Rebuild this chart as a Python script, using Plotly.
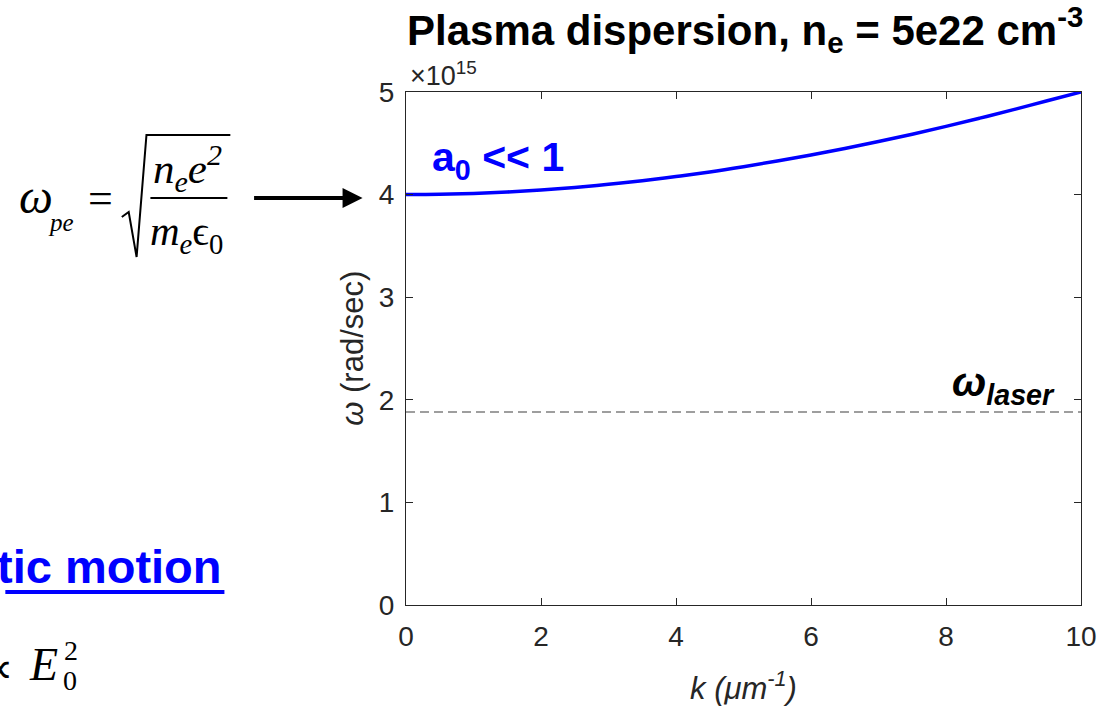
import plotly.graph_objects as go

# ---- data ----
k_um = [0, 0.5, 1, 1.5, 2, 2.5, 3, 3.5, 4, 4.5, 5, 5.5, 6, 6.5, 7, 7.5, 8, 8.5, 9, 9.5, 10]
omega = [4.000e15, 4.003e15, 4.011e15, 4.025e15, 4.045e15, 4.070e15, 4.100e15, 4.136e15,
         4.176e15, 4.221e15, 4.272e15, 4.327e15, 4.386e15, 4.449e15, 4.517e15, 4.589e15,
         4.665e15, 4.745e15, 4.828e15, 4.915e15, 5.000e15]
omega_laser = 1.88e15
x_ticks = [0, 2, 4, 6, 8, 10]
y_ticks = [0, 1e15, 2e15, 3e15, 4e15, 5e15]
y_ticktext = ["0", "1", "2", "3", "4", "5"]

W, H = 1109, 706
L, R, T, B = 406, 1090, 92, 605  # plot area in pixels


def X(px):
    return (px - L) / (R - L)


def Y(py):
    return (B - py) / (B - T)


AX = "#262626"
SANS = "Liberation Sans, Arial, sans-serif"
SERIF = "Liberation Serif, Times New Roman, serif"

fig = go.Figure()
fig.add_trace(go.Scatter(x=k_um, y=omega, mode="lines", line=dict(color="#0000FF", width=3.5, shape="spline"),
                         hoverinfo="skip", showlegend=False))
fig.add_trace(go.Scatter(x=[min(k_um), max(k_um)], y=[omega_laser, omega_laser], mode="lines",
                         line=dict(color="#7f7f7f", width=1.5, dash="9px,5px"), hoverinfo="skip", showlegend=False))

ann = []
# title
ann.append(dict(text="<b>Plasma dispersion, n<sub>e</sub> = 5e22 cm<sup>-3</sup></b>", x=X(750), y=Y(30),
                font=dict(family=SANS, size=42, color="black")))
# exponent
ann.append(dict(text="\u00d710<sup>15</sup>", x=X(408), y=Y(74), xanchor="left",
                font=dict(family=SANS, size=27, color=AX)))
# axis titles
ann.append(dict(text="<i>k</i> <i>(\u03bcm<sup>-1</sup>)</i>", x=X(748), y=Y(686),
                font=dict(family=SANS, size=31, color=AX)))
ann.append(dict(text="<i>\u03c9</i> (rad/sec)", x=X(351), y=Y(348), textangle=-90,
                font=dict(family=SANS, size=31, color=AX)))
# in-plot labels
ann.append(dict(text="<b>a<sub>0</sub> &lt;&lt; 1</b>", x=X(430), y=Y(160), xanchor="left",
                font=dict(family=SANS, size=41, color="#0000FF")))
ann.append(dict(text="<b><i>\u03c9<sub>laser</sub></i></b>", x=X(1066), y=Y(385), xanchor="right",
                font=dict(family=SANS, size=41, color="black")))

# left formula
ann.append(dict(text="<i>\u03c9</i>", x=X(31), y=Y(196), font=dict(family=SERIF, size=48, color="black")))
ann.append(dict(text="<i>pe</i>", x=X(56), y=Y(222), font=dict(family=SERIF, size=25, color="black")))
ann.append(dict(text="=", x=X(96), y=Y(198), font=dict(family=SERIF, size=44, color="black")))
ann.append(dict(text="<i>n<sub>e</sub>e<sup>2</sup></i>", x=X(185), y=Y(168),
                font=dict(family=SERIF, size=43, color="black")))
ann.append(dict(text="<i>m<sub>e</sub></i>\u03f5<sub>0</sub>", x=X(184), y=Y(234),
                font=dict(family=SERIF, size=41, color="black")))
# arrow
ann.append(dict(text="", x=X(362), y=Y(198), ax=-110, ay=0, showarrow=True, arrowhead=2, arrowsize=1,
                arrowwidth=4, arrowcolor="black"))
# slide text at the left bottom
ann.append(dict(text="<b>tic motion</b>", x=X(222), y=Y(566), xanchor="right",
                font=dict(family=SANS, size=47, color="#0000FF")))
ann.append(dict(text="\u221d", x=X(10), y=Y(668), xanchor="right", font=dict(family=SERIF, size=44, color="black")))
ann.append(dict(text="<i>E</i>", x=X(39), y=Y(664), font=dict(family=SERIF, size=46, color="black")))
ann.append(dict(text="2", x=X(67), y=Y(651), font=dict(family=SERIF, size=28, color="black")))
ann.append(dict(text="0", x=X(66), y=Y(680), font=dict(family=SERIF, size=28, color="black")))

for a in ann:
    a.setdefault("xref", "paper")
    a.setdefault("yref", "paper")
    a.setdefault("showarrow", False)
    a.setdefault("xanchor", "center")
    a.setdefault("yanchor", "middle")
    if a.get("showarrow"):
        a["axref"] = "pixel"
        a["ayref"] = "pixel"

shapes = [
    dict(type="line", xref="paper", yref="paper", x0=X(147), x1=X(225), y0=Y(198), y1=Y(198),
         line=dict(color="black", width=2)),
    dict(type="path", xref="paper", yref="paper",
         path=f"M {X(118)},{Y(217)} L {X(125)},{Y(212)} L {X(133)},{Y(257)} L {X(143)},{Y(135)} L {X(228)},{Y(135)}",
         line=dict(color="black", width=2)),
    dict(type="line", xref="paper", yref="paper", x0=X(0), x1=X(222), y0=Y(592), y1=Y(592),
         line=dict(color="#0000FF", width=4)),
]

fig.update_layout(
    width=W, height=H,
    margin=dict(l=L, r=W - R, t=T, b=H - B, pad=0),
    paper_bgcolor="white", plot_bgcolor="white",
    annotations=ann, shapes=shapes, showlegend=False,
    xaxis=dict(range=[0, 10], tickvals=x_ticks, ticks="inside", ticklen=7, tickcolor=AX, tickwidth=1,
               showline=True, linecolor=AX, linewidth=1, mirror="allticks", showgrid=False, zeroline=False,
               tickfont=dict(family=SANS, size=28, color=AX), ticklabelstandoff=6),
    yaxis=dict(range=[0, 5e15], tickvals=y_ticks, ticktext=y_ticktext, ticks="inside", ticklen=7,
               tickcolor=AX, tickwidth=1, showline=True, linecolor=AX, linewidth=1, mirror="allticks",
               showgrid=False, zeroline=False, tickfont=dict(family=SANS, size=28, color=AX),
               ticklabelstandoff=5),
)

fig.write_html("out.html")
